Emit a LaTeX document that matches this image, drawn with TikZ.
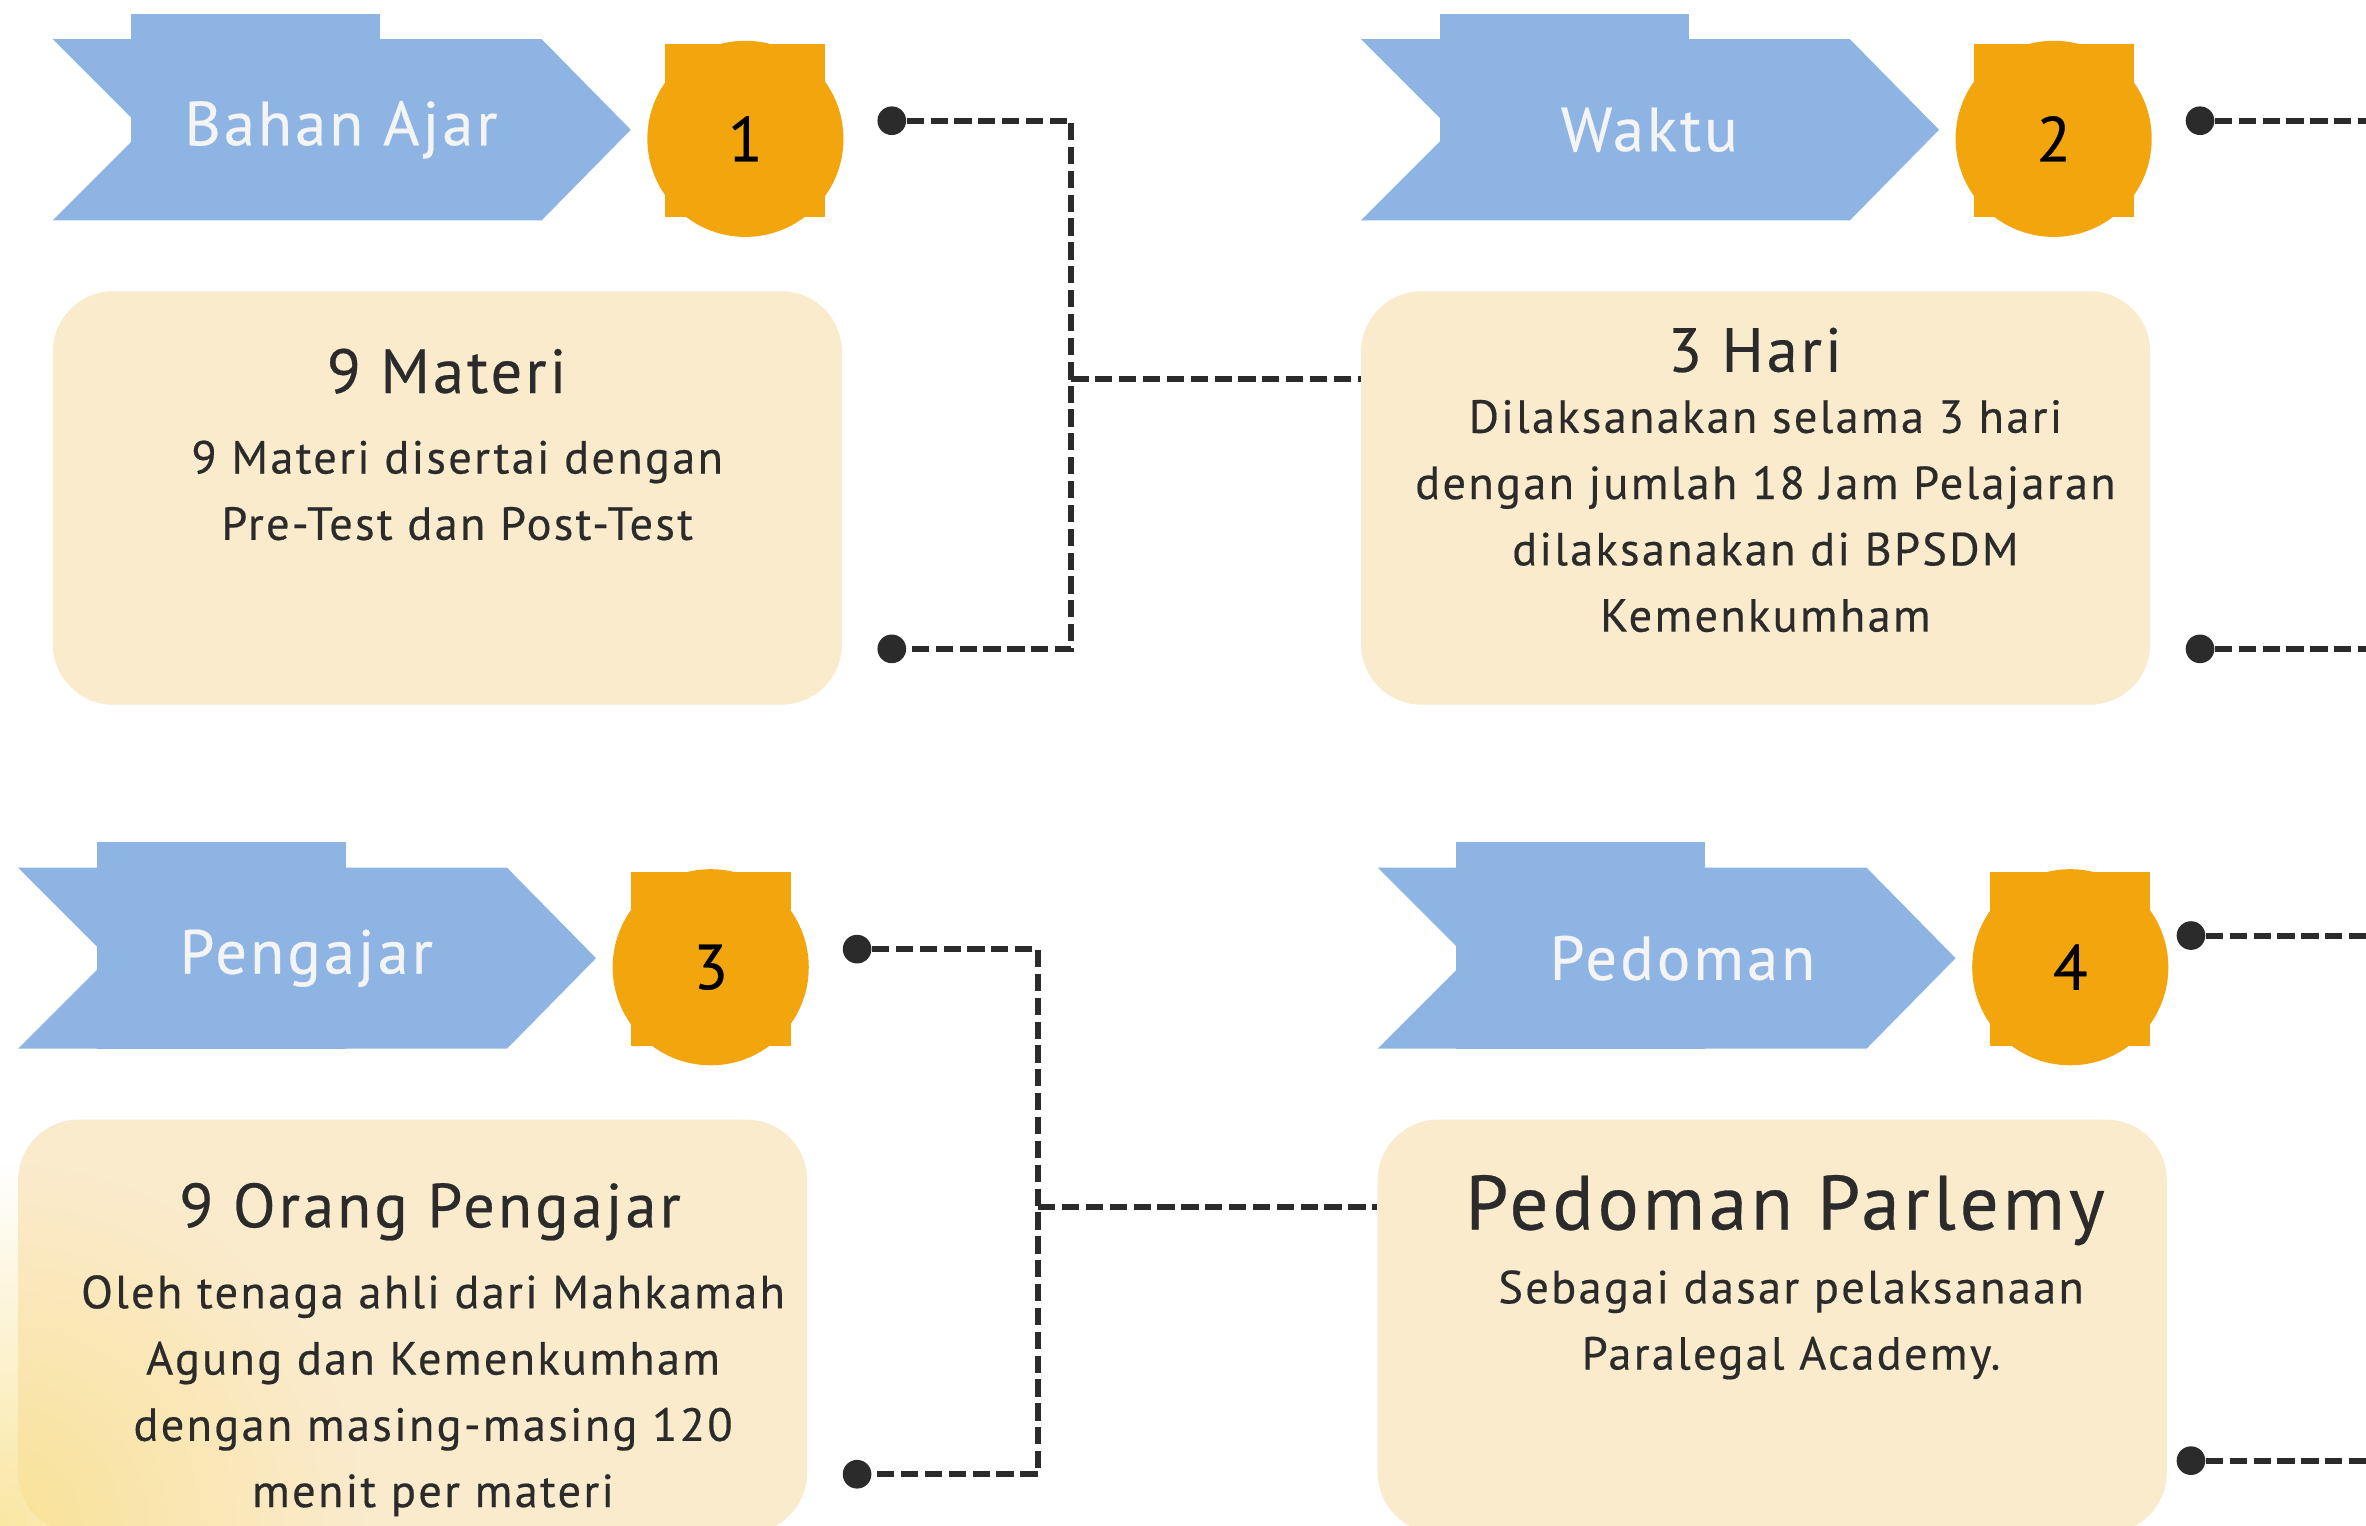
\documentclass[tikz,border=0pt]{standalone}
\usepackage{fontspec}
\setmainfont{PT Sans}[LetterSpace=5, FakeBold=0.4]
\usepackage{xcolor}
\usetikzlibrary{positioning, fadings}

\definecolor{biru}{HTML}{8EB4E3}
\definecolor{jingga}{HTML}{F2A50C}
\definecolor{krem}{HTML}{FBEBCD}
\definecolor{gelap}{HTML}{2B2B2B}
\definecolor{putih}{HTML}{F4F4F4}
\definecolor{kuning}{HTML}{F8DF85}

\tikzfading[name=pudar, inner color=transparent!25, outer color=transparent!100]

\tikzset{
  panah/.style={fill=biru},
  tajuk/.style={text=putih, font=\fontsize{23.5}{28}\selectfont},
  nomor/.style={circle, fill=jingga, minimum size=2.6cm, inner sep=0pt, text=black, font=\fontsize{24}{28}\selectfont},
  kotak/.style={fill=krem, rounded corners=0.8cm, minimum width=10.46cm, minimum height=5.48cm, inner sep=0pt},
  judul/.style={text=gelap, font=\fontsize{23.5}{30}\selectfont},
  teks/.style={text=gelap, align=center, font=\fontsize{17.5}{25}\selectfont},
  titik/.style={circle, fill=gelap, minimum size=0.38cm, inner sep=0pt},
  garis/.style={gelap, line width=2.3pt, dash pattern=on 6.5pt off 2.5pt},
}

\begin{document}
\begin{tikzpicture}[x=0.02cm, y=-0.02cm]
\useasboundingbox (0,0) rectangle (1568,1011);
\fill[white] (0,0) rectangle (1568,1011);

\begin{scope}
\fill[panah] (35,26) -- (359,26) -- (418,86) -- (359,146) -- (35,146) -- (95,86) -- cycle;
\fill[panah] (87,9) rectangle (252,146);
\node[tajuk] (tajuk1) at (226,86) {Bahan Ajar};
\fill[jingga] (441,29) rectangle (547,144);
\node[nomor] (nomor1) at (494,92) {1};
\node[kotak] (isi1) at (296.5,330) {};
\node[judul] (judul1) at (296,246) {9 Materi};
\node[teks] (teks1) at (303,325) {9 Materi disertai dengan\\Pre-Test dan Post-Test};
\node[titik] (titik1a) at (591,80) {};
\node[titik] (titik1b) at (591,430) {};
\coordinate (siku1) at (710,251);
\end{scope}

\begin{scope}[shift={(867,0)}]
\fill[panah] (35,26) -- (359,26) -- (418,86) -- (359,146) -- (35,146) -- (95,86) -- cycle;
\fill[panah] (87,9) rectangle (252,146);
\node[tajuk] (tajuk2) at (226,86) {Waktu};
\fill[jingga] (441,29) rectangle (547,144);
\node[nomor] (nomor2) at (494,92) {2};
\node[kotak] (isi2) at (296.5,330) {};
\node[judul] (judul2) at (296,232) {3 Hari};
\node[teks] (teks2) at (303,342) {Dilaksanakan selama 3 hari\\dengan jumlah 18 Jam Pelajaran\\dilaksanakan di BPSDM\\Kemenkumham};
\node[titik] (titik2a) at (591,80) {};
\node[titik] (titik2b) at (591,430) {};
\coordinate (ujung2a) at (720,80);
\coordinate (ujung2b) at (720,430);
\end{scope}

\begin{scope}[shift={(-23,549)}]
\fill[panah] (35,26) -- (359,26) -- (418,86) -- (359,146) -- (35,146) -- (95,86) -- cycle;
\fill[panah] (87,9) rectangle (252,146);
\node[tajuk] (tajuk3) at (226,86) {Pengajar};
\fill[jingga] (441,29) rectangle (547,144);
\node[nomor] (nomor3) at (494,92) {3};
\node[kotak] (isi3) at (296.5,330) {};
\fill[kuning, path fading=pudar] (23,462) circle (240);
\node[judul] (judul3) at (308,254) {9 Orang Pengajar};
\node[teks] (teks3) at (310,376) {Oleh tenaga ahli dari Mahkamah\\Agung dan Kemenkumham\\dengan masing-masing 120\\menit per materi};
\node[titik] (titik3a) at (591,80) {};
\node[titik] (titik3b) at (591,428) {};
\coordinate (siku3) at (711,251);
\end{scope}

\begin{scope}[shift={(878,549)}]
\fill[panah] (35,26) -- (359,26) -- (418,86) -- (359,146) -- (35,146) -- (95,86) -- cycle;
\fill[panah] (87,9) rectangle (252,146);
\node[tajuk] (tajuk4) at (237,86) {Pedoman};
\fill[jingga] (441,29) rectangle (547,144);
\node[nomor] (nomor4) at (494,92) {4};
\node[kotak] (isi4) at (296.5,330) {};
\node[judul, font=\fontsize{29}{36}\selectfont] (judul4) at (305,253) {Pedoman Parlemy};
\node[teks] (teks4) at (309,329) {Sebagai dasar pelaksanaan\\Paralegal Academy.};
\node[titik] (titik4a) at (574,71) {};
\node[titik] (titik4b) at (574,419) {};
\coordinate (ujung4a) at (710,71);
\coordinate (ujung4b) at (710,419);
\end{scope}

\draw[garis] (titik1a) -| (siku1) |- (titik1b);
\draw[garis] (siku1) -- (siku1 -| isi2.west);
\draw[garis] (titik2a) -- (ujung2a);
\draw[garis] (titik2b) -- (ujung2b);
\draw[garis] (titik3a) -| (siku3) |- (titik3b);
\draw[garis] (siku3) -- (siku3 -| isi4.west);
\draw[garis] (titik4a) -- (ujung4a);
\draw[garis] (titik4b) -- (ujung4b);
\end{tikzpicture}
\end{document}
